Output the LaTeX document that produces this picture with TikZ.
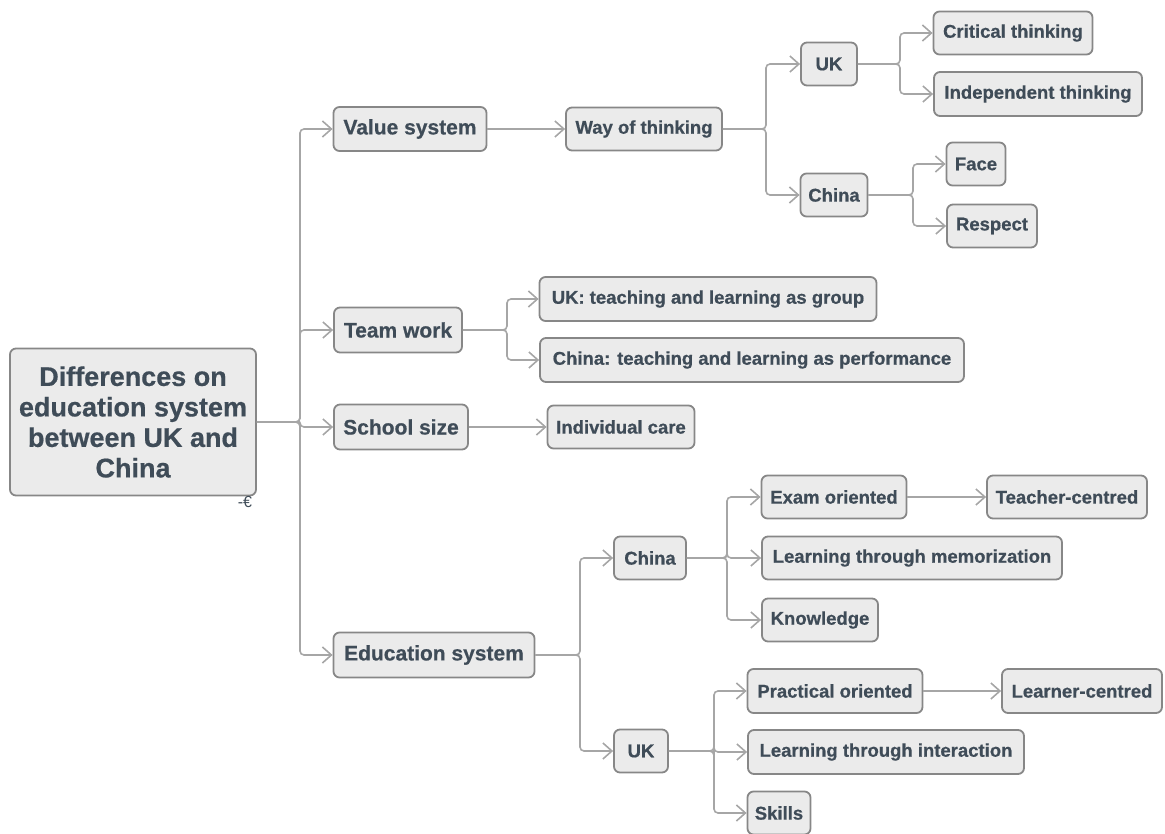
\documentclass[tikz,border=0pt]{standalone}
\usepackage{fontspec}
\setmainfont{Liberation Sans}[BoldFeatures={FakeBold=0.6}]
\usetikzlibrary{arrows.meta}
\definecolor{boxfill}{HTML}{EBEBEB}
\definecolor{boxline}{HTML}{878787}
\definecolor{txt}{HTML}{3F4C58}
\definecolor{conn}{HTML}{A6A6A6}
\tikzset{
  box/.style={draw=boxline, fill=boxfill, line width=1.8pt, rounded corners=6pt,
    text=txt, inner sep=0pt, align=center},
  lone/.style={box, font=\bfseries\fontsize{21}{25}\selectfont},
  ltwo/.style={box, font=\bfseries\fontsize{18.5}{22}\selectfont},
  rootbox/.style={box, font=\bfseries\fontsize{27}{30.5}\selectfont},
  conn/.style={draw=conn, line width=1.6pt, rounded corners=4pt,
    -{Straight Barb[length=9pt,width=16pt,line width=1.6pt]}},
}
\begin{document}
\begin{tikzpicture}[x=1pt,y=-1pt]
\useasboundingbox (0,0) rectangle (1165,834);
% nodes
\node[rootbox, minimum width=246pt, minimum height=147pt] (root) at (133,422)
  {Differences on\\education system\\between UK and\\China};
\node[text=txt, inner sep=0pt, font=\fontsize{16}{16}\selectfont] (mark) at (245,502) {-€};
\node[lone, minimum width=153pt, minimum height=44pt] (vs) at (410,129) {Value system};
\node[lone, minimum width=128pt, minimum height=45pt] (tw) at (398,330) {Team work};
\node[lone, minimum width=134pt, minimum height=45pt] (ss) at (401,427) {School size};
\node[lone, minimum width=201pt, minimum height=45pt] (es) at (434,655) {Education system};
\node[ltwo, minimum width=156pt, minimum height=43pt] (wot) at (644,129) {Way of thinking};
\node[ltwo, minimum width=56pt, minimum height=43pt] (uka) at (829,64) {UK};
\node[ltwo, minimum width=67pt, minimum height=43pt] (cna) at (834,195) {China};
\node[ltwo, minimum width=159pt, minimum height=43pt] (ct) at (1013,33) {Critical thinking};
\node[ltwo, minimum width=208pt, minimum height=44pt] (it) at (1038,94) {Independent thinking};
\node[ltwo, minimum width=59pt, minimum height=43pt] (face) at (976,164) {Face};
\node[ltwo, minimum width=90pt, minimum height=43pt] (resp) at (992,226) {Respect};
\node[ltwo, minimum width=337pt, minimum height=44pt] (tg) at (708,299) {UK: teaching and learning as group};
\node[ltwo, minimum width=424pt, minimum height=44pt] (tp) at (752,360) {China: teaching and learning as performance};
\node[ltwo, minimum width=147pt, minimum height=43pt] (ic) at (621,427) {Individual care};
\node[ltwo, minimum width=72pt, minimum height=43pt] (cnb) at (650,558) {China};
\node[ltwo, minimum width=54pt, minimum height=43pt] (ukb) at (641,751) {UK};
\node[ltwo, minimum width=145pt, minimum height=43pt] (eo) at (834,497) {Exam oriented};
\node[ltwo, minimum width=160pt, minimum height=43pt] (tc) at (1067,497) {Teacher-centred};
\node[ltwo, minimum width=300pt, minimum height=43pt] (ltm) at (912,558) {Learning through memorization};
\node[ltwo, minimum width=116pt, minimum height=43pt] (kn) at (820,620) {Knowledge};
\node[ltwo, minimum width=175pt, minimum height=44pt] (po) at (835,691) {Practical oriented};
\node[ltwo, minimum width=160pt, minimum height=44pt] (lc) at (1082,691) {Learner-centred};
\node[ltwo, minimum width=276pt, minimum height=44pt] (lti) at (886,752) {Learning through interaction};
\node[ltwo, minimum width=63pt, minimum height=43pt] (sk) at (779,813) {Skills};
% branch coordinates
\coordinate (broot) at (300,422);
\coordinate (bwot) at (766,129);
\coordinate (buka) at (900,64);
\coordinate (bcna) at (913,195);
\coordinate (btw) at (507,330);
\coordinate (bes) at (580,655);
\coordinate (bcnb) at (727,558);
\coordinate (bukb) at (714,751);
% connectors
\foreach \c in {vs,tw,ss,es} \draw[conn] (root.east) -- (broot) |- (\c.west);
\draw[conn] (vs.east) -- (wot.west);
\foreach \c in {uka,cna} \draw[conn] (wot.east) -- (bwot) |- (\c.west);
\foreach \c in {ct,it} \draw[conn] (uka.east) -- (buka) |- (\c.west);
\foreach \c in {face,resp} \draw[conn] (cna.east) -- (bcna) |- (\c.west);
\foreach \c in {tg,tp} \draw[conn] (tw.east) -- (btw) |- (\c.west);
\draw[conn] (ss.east) -- (ic.west);
\foreach \c in {cnb,ukb} \draw[conn] (es.east) -- (bes) |- (\c.west);
\foreach \c in {eo,ltm,kn} \draw[conn] (cnb.east) -- (bcnb) |- (\c.west);
\foreach \c in {po,lti,sk} \draw[conn] (ukb.east) -- (bukb) |- (\c.west);
\draw[conn] (eo.east) -- (tc.west);
\draw[conn] (po.east) -- (lc.west);
\end{tikzpicture}
\end{document}
